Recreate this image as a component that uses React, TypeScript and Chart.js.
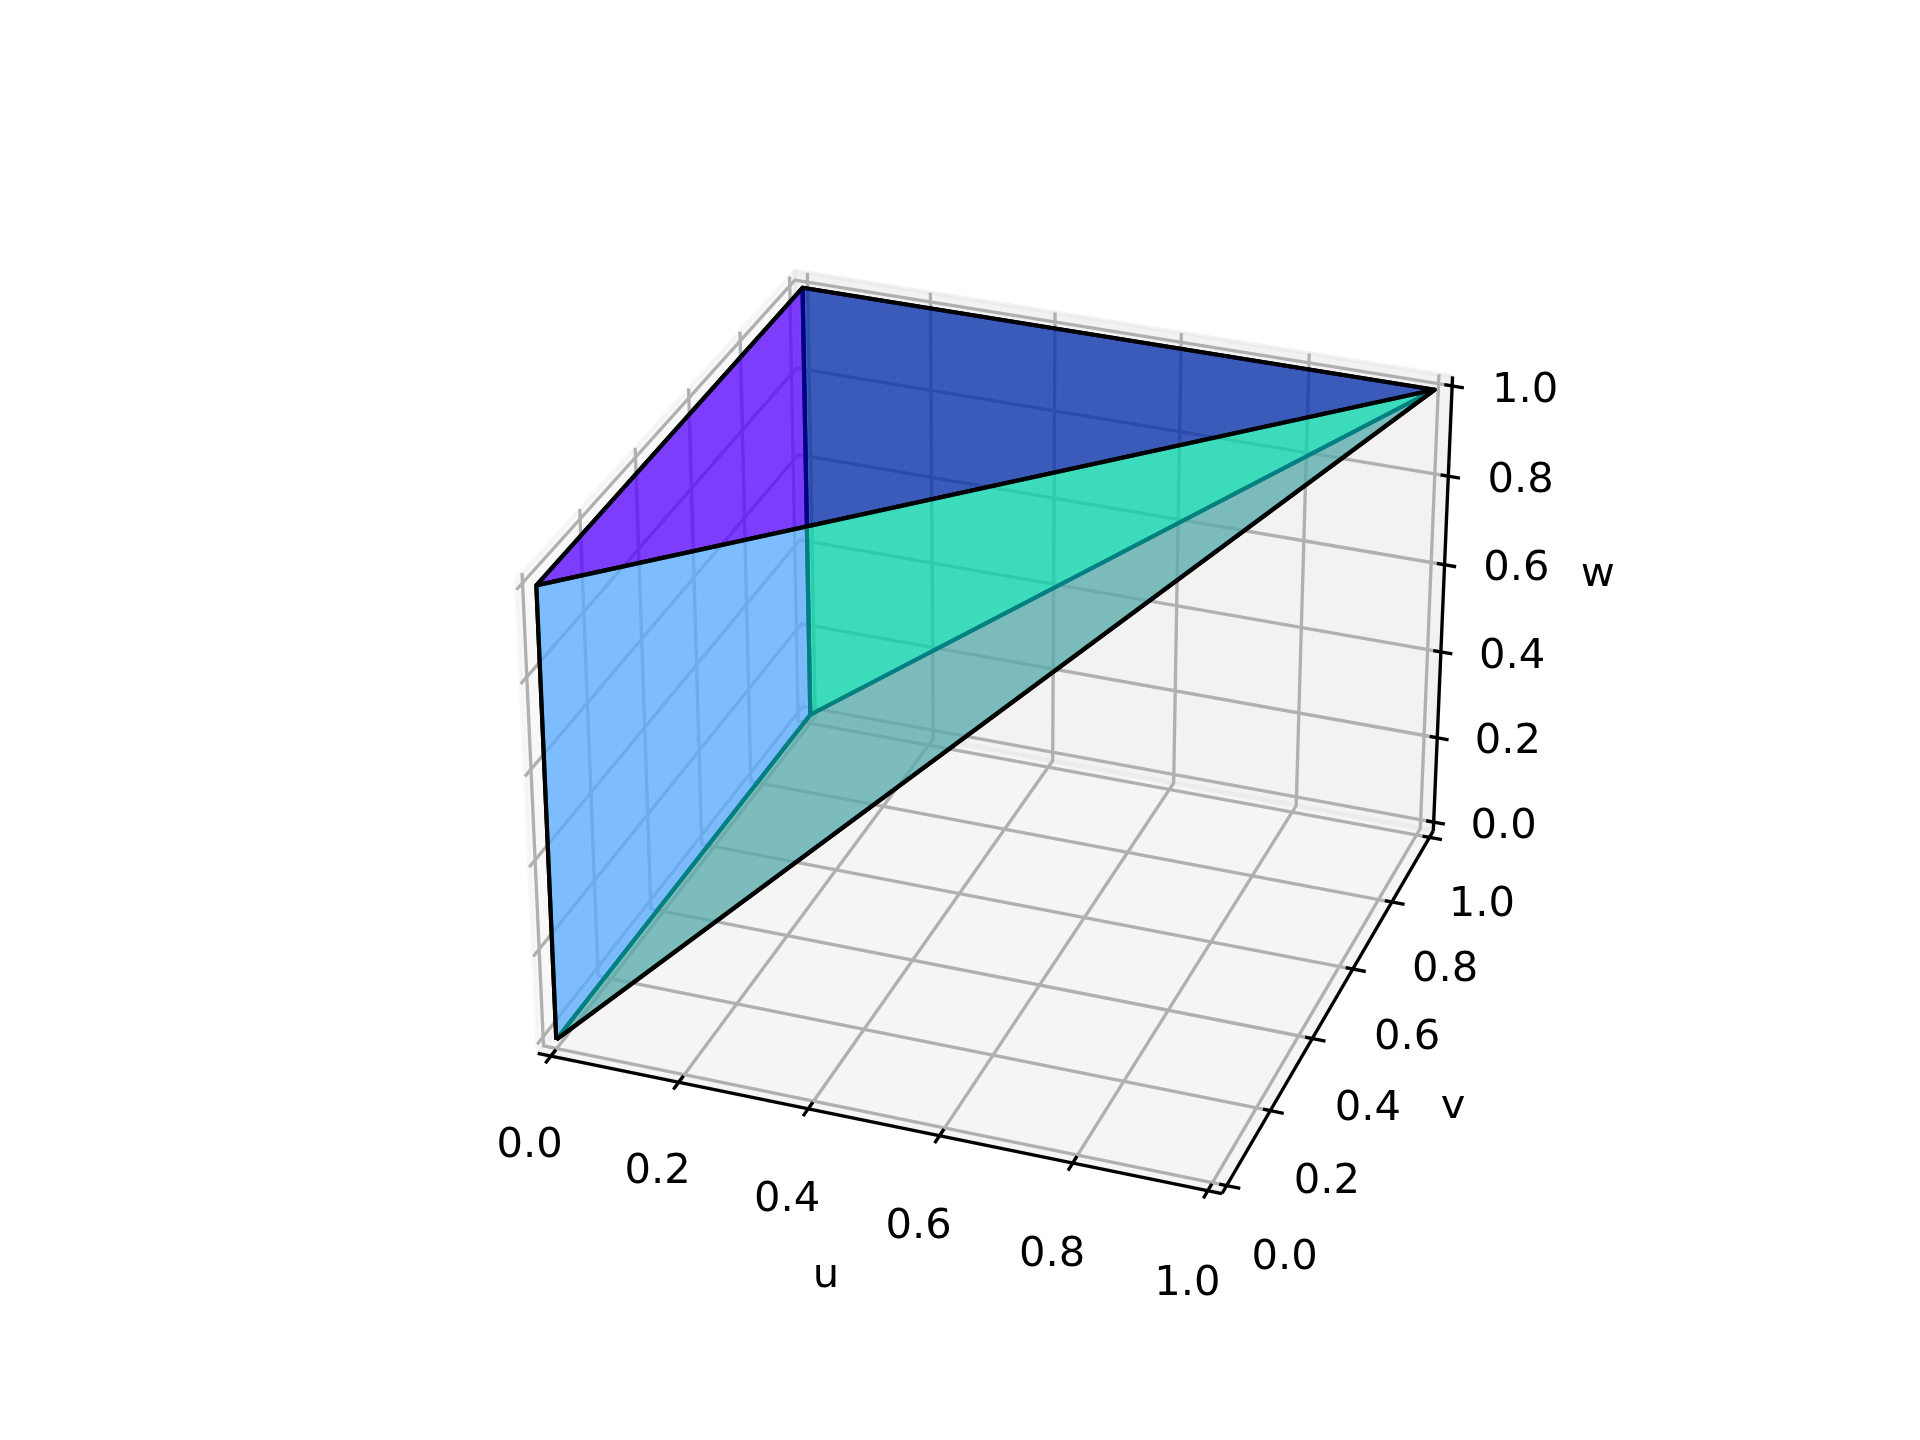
import React, { useEffect, useRef } from "react";
import { Chart, registerables } from "chart.js";

Chart.register(...registerables);

type P3 = [number, number, number];

// ---- data ----
const apex00: P3 = [0, 0, 0];
const apex01: P3 = [0, 0, 1];
const apex11: P3 = [0, 1, 1];
const apexTop: P3 = [1, 1, 1];
const apexBack: P3 = [0, 1, 0];

const faceGreen: P3[] = [apex11, apexTop, apexBack];
const faceRed: P3[] = [apex00, apexBack, apexTop];
const faceMagenta: P3[] = [apex00, apex01, apex11, apexBack];
const faceBlue: P3[] = [apex01, apex11, apexTop];
const faceCyan: P3[] = [apex00, apex01, apexTop];

const tickValues = [0, 0.2, 0.4, 0.6, 0.8, 1];
const tickLabels = ["0.0", "0.2", "0.4", "0.6", "0.8", "1.0"];

// ---- camera (same model as a 3D axes view) ----
const ELEV = 30;
const AZIM = -70;
const DIST = 10;
const FOCAL_SCALE = 5995;
const CENTER_X = 999;
const CENTER_Y = 712;
const PAD = 1 / 48;
const LO = -PAD;
const HI = 1 + PAD;
const FONT = '41.67px "DejaVu Sans"';

const k = 1.8294640721620434 / Math.sqrt(41);
const box: P3 = [4 * k, 4 * k, 3 * k];
const e = (ELEV * Math.PI) / 180;
const a = (AZIM * Math.PI) / 180;
const R: P3 = [box[0] / 2, box[1] / 2, box[2] / 2];
const W: P3 = [Math.cos(e) * Math.cos(a), Math.cos(e) * Math.sin(a), Math.sin(e)];
const Eye: P3 = [R[0] + DIST * W[0], R[1] + DIST * W[1], R[2] + DIST * W[2]];
const cross = (p: P3, q: P3): P3 => [
  p[1] * q[2] - p[2] * q[1],
  p[2] * q[0] - p[0] * q[2],
  p[0] * q[1] - p[1] * q[0],
];
const dot = (p: P3, q: P3) => p[0] * q[0] + p[1] * q[1] + p[2] * q[2];
const U0 = cross([0, 0, 1], W);
const Ulen = Math.sqrt(dot(U0, U0));
const U: P3 = [U0[0] / Ulen, U0[1] / Ulen, U0[2] / Ulen];
const Vv = cross(W, U);

function project([u, v, w]: P3) {
  const d: P3 = [u * box[0] - Eye[0], v * box[1] - Eye[1], w * box[2] - Eye[2]];
  const z = -dot(W, d);
  return {
    x: CENTER_X + (FOCAL_SCALE * dot(U, d)) / z,
    y: CENTER_Y - (FOCAL_SCALE * dot(Vv, d)) / z,
  };
}

const line = (pts: P3[], color: string, width: number, fill?: string) => ({
  data: pts.map(project),
  showLine: true,
  pointRadius: 0,
  borderColor: color,
  borderWidth: width,
  borderJoinStyle: "round" as const,
  borderCapStyle: "butt" as const,
  backgroundColor: fill ?? "transparent",
  fill: fill ? ("shape" as const) : false,
  tension: 0,
  clip: false as const,
});

const poly = (pts: P3[], fill: string) =>
  line([...pts, pts[0]], "#000000", 4.17, fill);

const GRID = "#b0b0b0";
const AXIS = "#000000";

function buildDatasets() {
  const list: any[] = [];
  // panes
  const paneX = "rgba(242,242,242,0.5)";
  const paneY = "rgba(230,230,230,0.5)";
  const paneZ = "rgba(236,236,236,0.5)";
  const pane = (pts: P3[], c: string) => line([...pts, pts[0]], c, 4.17, c);
  list.push(pane([[LO, LO, LO], [LO, HI, LO], [LO, HI, HI], [LO, LO, HI]], paneX));
  list.push(pane([[LO, HI, LO], [HI, HI, LO], [HI, HI, HI], [LO, HI, HI]], paneY));
  list.push(pane([[LO, LO, LO], [HI, LO, LO], [HI, HI, LO], [LO, HI, LO]], paneZ));
  // grid
  for (const t of tickValues) {
    list.push(line([[t, LO, LO], [t, HI, LO], [t, HI, HI]], GRID, 3.33));
    list.push(line([[HI, t, LO], [LO, t, LO], [LO, t, HI]], GRID, 3.33));
    list.push(line([[LO, LO, t], [LO, HI, t], [HI, HI, t]], GRID, 3.33));
  }
  // axis lines
  list.push(line([[LO, LO, LO], [HI, LO, LO]], AXIS, 3.33));
  list.push(line([[HI, LO, LO], [HI, HI, LO]], AXIS, 3.33));
  list.push(line([[HI, HI, LO], [HI, HI, HI]], AXIS, 3.33));
  // ticks
  for (const t of tickValues) {
    list.push(line([[t, LO - 0.02, LO], [t, LO + 0.018, LO]], AXIS, 3.33));
    list.push(line([[HI + 0.02, t, LO], [HI - 0.011, t, LO]], AXIS, 3.33));
    list.push(line([[HI + 0.018, HI, t], [HI - 0.012, HI, t]], AXIS, 3.33));
  }
  // faces, back to front
  list.push(poly(faceGreen, "rgba(0,128,0,0.5)"));
  list.push(poly(faceRed, "rgba(255,0,0,0.5)"));
  list.push(poly(faceMagenta, "rgba(255,0,255,0.5)"));
  list.push(poly(faceBlue, "rgba(0,0,255,0.5)"));
  list.push(poly(faceCyan, "rgba(0,255,255,0.5)"));
  return list.reverse(); // the first dataset is painted last
}

const textPlugin = {
  id: "axisText",
  afterDraw(chart: any) {
    const { ctx, scales } = chart;
    const put = (s: string, p: P3, dx = 0, dy = 0) => {
      const q = project(p);
      ctx.fillText(s, scales.x.getPixelForValue(q.x) + dx, scales.y.getPixelForValue(q.y) + dy);
    };
    ctx.save();
    ctx.font = FONT;
    ctx.fillStyle = "#000";
    ctx.textAlign = "center";
    ctx.textBaseline = "middle";
    tickValues.forEach((t, i) => {
      put(tickLabels[i], [t, LO - 0.0856, LO - 0.133], 0, 1.2);
      put(tickLabels[i], [HI + 0.085, t, LO - 0.129], 1.5, 3.8);
      put(tickLabels[i], [HI + 0.1, HI + 0.037, t], 0.6, 5);
    });
    put("u", [0.518, LO - 0.236, LO - 0.14]);
    put("v", [HI + 0.202, 0.45, LO - 0.14]);
    put("w", [HI + 0.197, HI + 0.16, 0.516]);
    ctx.restore();
  },
};

export default function App() {
  const ref = useRef<HTMLCanvasElement>(null);
  useEffect(() => {
    const chart = new Chart(ref.current as HTMLCanvasElement, {
      type: "scatter",
      data: { datasets: buildDatasets() },
      options: {
        animation: false,
        responsive: false,
        layout: { padding: 0 },
        plugins: { legend: { display: false }, tooltip: { enabled: false } },
        scales: {
          x: { type: "linear", min: 0, max: 1920, display: false },
          y: { type: "linear", min: 0, max: 1440, reverse: true, display: false },
        },
      },
      plugins: [textPlugin],
    });
    return () => chart.destroy();
  }, []);
  return (
    <div style={{ position: "absolute", left: 0, top: 0, width: 1920, height: 1440, background: "#fff" }}>
      <canvas ref={ref} width={1920} height={1440} style={{ display: "block" }} />
    </div>
  );
}
